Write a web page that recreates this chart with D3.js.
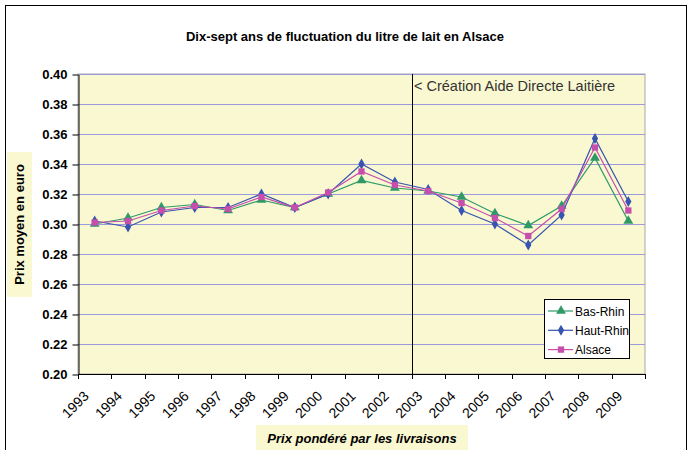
<!DOCTYPE html>
<html>
<head>
<meta charset="utf-8">
<script src="https://cdn.jsdelivr.net/npm/d3@7"></script>
<style>
  body { margin: 0; background: #ffffff; }
  text { font-family: "Liberation Sans", Arial, sans-serif; }
</style>
</head>
<body>
<div id="chart"></div>
<script>
// data
let years = ["1993","1994","1995","1996","1997","1998","1999","2000","2001","2002","2003","2004","2005","2006","2007","2008","2009"];
let basRhin  = [0.300,0.304,0.311,0.313,0.309,0.316,0.311,0.320,0.329,0.324,0.322,0.318,0.307,0.299,0.312,0.344,0.302];
let hautRhin = [0.302,0.298,0.308,0.311,0.311,0.320,0.311,0.320,0.340,0.328,0.323,0.309,0.300,0.286,0.306,0.357,0.315];
let alsace   = [0.301,0.302,0.309,0.312,0.310,0.318,0.311,0.321,0.335,0.326,0.322,0.314,0.304,0.292,0.310,0.351,0.309];
let yTicks = [0.20,0.22,0.24,0.26,0.28,0.30,0.32,0.34,0.36,0.38,0.40];

let width = 690;
let height = 450;
let plotL = 78, plotR = 645, plotT = 74, plotB = 374;

let svg = d3.select("#chart")
  .append("svg")
  .attr("width", width)
  .attr("height", height);

// outer frame
svg.append("rect")
  .attr("x", 5.5).attr("y", 5.5)
  .attr("width", 681).attr("height", 460)
  .attr("fill", "#ffffff")
  .attr("stroke", "#000000")
  .attr("stroke-width", 1);

svg.append("text")
  .attr("x", 345).attr("y", 41)
  .attr("text-anchor", "middle")
  .attr("font-size", "13px")
  .attr("font-weight", "bold")
  .text("Dix-sept ans de fluctuation du litre de lait en Alsace");

let x = d3.scaleBand().domain(years).range([plotL, plotR]).padding(0);
let y = d3.scaleLinear().domain([0.20, 0.40]).range([plotB, plotT]);

// plot area
svg.append("rect")
  .attr("x", plotL).attr("y", plotT)
  .attr("width", plotR - plotL).attr("height", plotB - plotT)
  .attr("fill", "#faf8d0")
  .attr("stroke", "#a8a8a8")
  .attr("stroke-width", 1);

// gridlines
svg.append("g")
  .selectAll("line")
  .data(yTicks.slice(1))
  .enter()
  .append("line")
  .attr("x1", plotL).attr("x2", plotR)
  .attr("y1", d => Math.round(y(d)) + 0.5)
  .attr("y2", d => Math.round(y(d)) + 0.5)
  .attr("stroke", "#9c9adc")
  .attr("stroke-width", 1);

// y axis
let yAxis = svg.append("g")
  .attr("transform", "translate(" + (plotL + 0.5) + ",0.5)")
  .call(d3.axisLeft(y).tickValues(yTicks).tickFormat(d3.format(".2f")).tickSize(6).tickSizeOuter(0));
yAxis.select(".domain").attr("stroke", "#000");
yAxis.selectAll(".tick line").attr("stroke", "#000");
yAxis.selectAll(".tick text")
  .attr("x", -11)
  .attr("font-family", "Liberation Sans, Arial, sans-serif")
  .attr("font-size", "13px")
  .attr("font-weight", "bold")
  .attr("fill", "#000");

// x axis: ticks between categories
let xAxisG = svg.append("g");
xAxisG.append("line")
  .attr("x1", plotL).attr("x2", plotR)
  .attr("y1", plotB + 0.5).attr("y2", plotB + 0.5)
  .attr("stroke", "#000");
xAxisG.selectAll(".xt")
  .data(years.concat(["end"]))
  .enter()
  .append("line")
  .attr("x1", (d, i) => Math.round(i < years.length ? x(d) : plotR) + 0.5)
  .attr("x2", (d, i) => Math.round(i < years.length ? x(d) : plotR) + 0.5)
  .attr("y1", plotB).attr("y2", plotB + 5)
  .attr("stroke", "#000");
xAxisG.selectAll(".xl")
  .data(years)
  .enter()
  .append("text")
  .attr("transform", d => "translate(" + (x(d) + x.bandwidth() / 2 - 5) + "," + (plotB + 23) + ") rotate(-45)")
  .attr("text-anchor", "end")
  .attr("font-size", "14px")
  .text(d => d);

// marker line for 2003
svg.append("line")
  .attr("x1", Math.round(x("2003")) + 0.5).attr("x2", Math.round(x("2003")) + 0.5)
  .attr("y1", plotT).attr("y2", plotB)
  .attr("stroke", "#000");
svg.append("text")
  .attr("x", Math.round(x("2003")) + 2).attr("y", 91)
  .attr("font-size", "14.5px")
  .attr("fill", "#333333")
  .text("< Création Aide Directe Laitière");

// series
let series = [
  {name: "Bas-Rhin", values: basRhin, color: "#2f9a68", shape: d3.symbolTriangle, size: 42},
  {name: "Haut-Rhin", values: hautRhin, color: "#3654b0", shape: d3.symbolDiamond, size: 34},
  {name: "Alsace", values: alsace, color: "#c64fae", shape: d3.symbolSquare, size: 40}
];
let cx = d => x(d) + x.bandwidth() / 2;
let line = d3.line().x(d => cx(d.year)).y(d => y(d.v));

series.forEach(s => {
  let pts = years.map((yr, i) => ({year: yr, v: s.values[i]}));
  svg.append("path")
    .datum(pts)
    .attr("d", line)
    .attr("fill", "none")
    .attr("stroke", s.color)
    .attr("stroke-width", 1.2);
  svg.append("g")
    .selectAll("path")
    .data(pts)
    .enter()
    .append("path")
    .attr("d", d3.symbol().type(s.shape).size(s.size))
    .attr("transform", d => "translate(" + cx(d.year) + "," + y(d.v) + ")")
    .attr("fill", s.color);
});

// legend
let legend = svg.append("g");
legend.append("rect")
  .attr("x", 544.5).attr("y", 299.5)
  .attr("width", 85).attr("height", 59)
  .attr("fill", "#ffffff")
  .attr("stroke", "#000");
series.forEach((s, i) => {
  let ly = 311 + i * 19.3;
  legend.append("line")
    .attr("x1", 548).attr("x2", 573)
    .attr("y1", ly).attr("y2", ly)
    .attr("stroke", s.color).attr("stroke-width", 1.2);
  legend.append("path")
    .attr("d", d3.symbol().type(s.shape).size(s.size))
    .attr("transform", "translate(561," + ly + ")")
    .attr("fill", s.color);
  legend.append("text")
    .attr("x", 575).attr("y", ly + 4.5)
    .attr("font-size", "12px")
    .text(s.name);
});

// axis titles
svg.append("rect")
  .attr("x", 7).attr("y", 152)
  .attr("width", 25).attr("height", 145)
  .attr("fill", "#faf8d0");
svg.append("text")
  .attr("transform", "translate(24,224.5) rotate(-90)")
  .attr("text-anchor", "middle")
  .attr("font-size", "13px")
  .attr("font-weight", "bold")
  .text("Prix moyen en euro");

svg.append("rect")
  .attr("x", 256).attr("y", 425)
  .attr("width", 212).attr("height", 25)
  .attr("fill", "#faf8d0");
svg.append("text")
  .attr("x", 362).attr("y", 443)
  .attr("text-anchor", "middle")
  .attr("font-size", "13px")
  .attr("font-weight", "bold")
  .attr("font-style", "italic")
  .text("Prix pondéré par les livraisons");
</script>
</body>
</html>
